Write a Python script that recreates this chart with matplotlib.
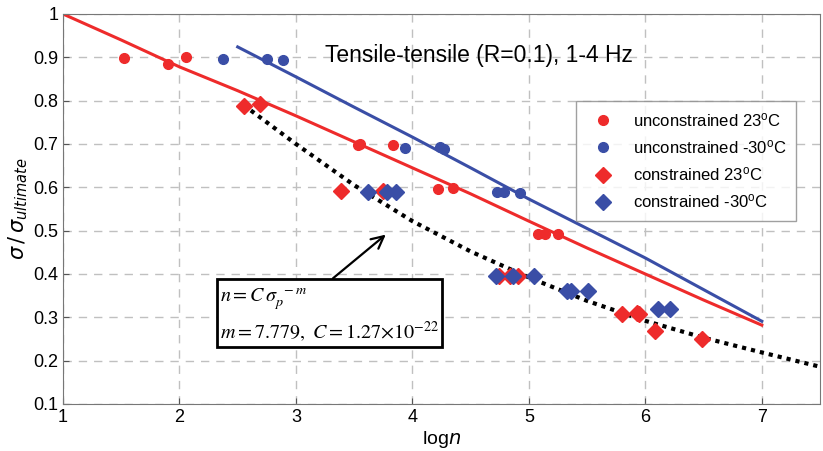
import matplotlib
matplotlib.use("Agg")
import matplotlib.pyplot as plt

plt.rcParams['font.family'] = ['Liberation Sans', 'DejaVu Sans']

# fitted curves
red_fit_x = [1, 1.5, 2, 2.5, 3, 3.5, 4, 4.5, 5, 5.5, 6, 6.5, 7]
red_fit_y = [1.0, 0.94, 0.878, 0.823, 0.765, 0.705, 0.645, 0.585, 0.522, 0.46, 0.40, 0.34, 0.282]
blue_fit_x = [2.5, 3, 3.5, 4, 4.5, 5, 5.5, 6, 6.5, 7]
blue_fit_y = [0.924, 0.855, 0.785, 0.716, 0.645, 0.573, 0.505, 0.437, 0.364, 0.291]
dot_fit_x = [2.55, 3, 3.5, 4, 4.5, 5, 5.5, 6, 6.5, 7, 7.5]
dot_fit_y = [0.79, 0.70, 0.605, 0.522, 0.452, 0.392, 0.338, 0.292, 0.253, 0.219, 0.186]

# data points
unc23_x = [1.52, 1.90, 2.06, 3.53, 3.55, 3.83, 4.22, 4.35, 5.08, 5.14, 5.25]
unc23_y = [0.898, 0.885, 0.900, 0.697, 0.699, 0.697, 0.596, 0.598, 0.492, 0.492, 0.492]
unc30_x = [2.37, 2.75, 2.89, 3.94, 4.24, 4.27, 4.73, 4.79, 4.92]
unc30_y = [0.896, 0.896, 0.893, 0.690, 0.692, 0.688, 0.590, 0.590, 0.588]
con23_x = [2.55, 2.69, 3.39, 3.75, 4.74, 4.84, 4.91, 5.80, 5.93, 5.95, 6.08, 6.49]
con23_y = [0.788, 0.792, 0.592, 0.592, 0.395, 0.395, 0.395, 0.307, 0.310, 0.307, 0.268, 0.250]
con30_x = [3.62, 3.78, 3.86, 4.72, 4.86, 5.04, 5.33, 5.36, 5.51, 6.11, 6.21]
con30_y = [0.590, 0.590, 0.590, 0.395, 0.395, 0.395, 0.360, 0.360, 0.360, 0.320, 0.320]

red = '#ee2b2b'
blue = '#3a4ea6'

fig = plt.figure(figsize=(8.23, 4.51), dpi=100)
ax = fig.add_axes([63 / 823, 47 / 451, 757 / 823, 390 / 451])

ax.plot(red_fit_x, red_fit_y, color=red, lw=2.2)
ax.plot(blue_fit_x, blue_fit_y, color=blue, lw=2.2)
ax.plot(dot_fit_x, dot_fit_y, color='black', lw=3, ls=(0, (1, 1.2)))

ax.plot(unc23_x, unc23_y, 'o', color=red, ms=7, label='unconstrained 23$\\mathregular{^o}$C')
ax.plot(unc30_x, unc30_y, 'o', color=blue, ms=7, label='unconstrained -30$\\mathregular{^o}$C')
ax.plot(con23_x, con23_y, 'D', color=red, ms=8.5, label='constrained 23$\\mathregular{^o}$C')
ax.plot(con30_x, con30_y, 'D', color=blue, ms=8.5, label='constrained -30$\\mathregular{^o}$C')

ax.set_xlim(1, 7.5)
ax.set_ylim(0.1, 1.0)
ax.set_xticks([1, 2, 3, 4, 5, 6, 7])
ax.set_yticks([0.1, 0.2, 0.3, 0.4, 0.5, 0.6, 0.7, 0.8, 0.9, 1.0])
ax.set_yticklabels(['0.1', '0.2', '0.3', '0.4', '0.5', '0.6', '0.7', '0.8', '0.9', '1'])
ax.tick_params(direction='in', labelsize=13, length=4, color='#555555')
ax.grid(True, color='#c0c0c0', ls=(0, (6, 5)), lw=1)
for s in ax.spines.values():
    s.set_color('#777777')

ax.set_xlabel('log$n$', fontsize=14, labelpad=2)
ax.set_ylabel('$\\sigma\\,/\\,\\sigma_{ultimate}$', fontsize=15, labelpad=2)

ax.text(4.57, 0.905, 'Tensile-tensile (R=0.1), 1-4 Hz', fontsize=16.5, ha='center', va='center')

leg = ax.legend(loc='upper left', fontsize=12, frameon=True, fancybox=False,
                edgecolor='#888888', handletextpad=0.8, labelspacing=0.55,
                borderpad=0.6, borderaxespad=0)
leg.set_bbox_to_anchor(((576 - 63) / 757, 1 - (101 - 14) / 390), transform=ax.transAxes)
leg.get_frame().set_linewidth(1)

ax.annotate('', xy=(3.79, 0.495), xytext=(3.30, 0.386),
            arrowprops=dict(arrowstyle='->', color='black', lw=1.6, mutation_scale=22))
ax.text(2.35, 0.37, '$n = C\\,\\sigma_p^{\\;\\,-m}$\n$m = 7.779,\\ C = 1.27{\\times}10^{-22}$',
        fontsize=14.5, va='top', ha='left', math_fontfamily='stix', linespacing=1.35,
        bbox=dict(boxstyle='square,pad=0.15', fc='white', ec='black', lw=2))

fig.savefig('out.png', dpi=100)
